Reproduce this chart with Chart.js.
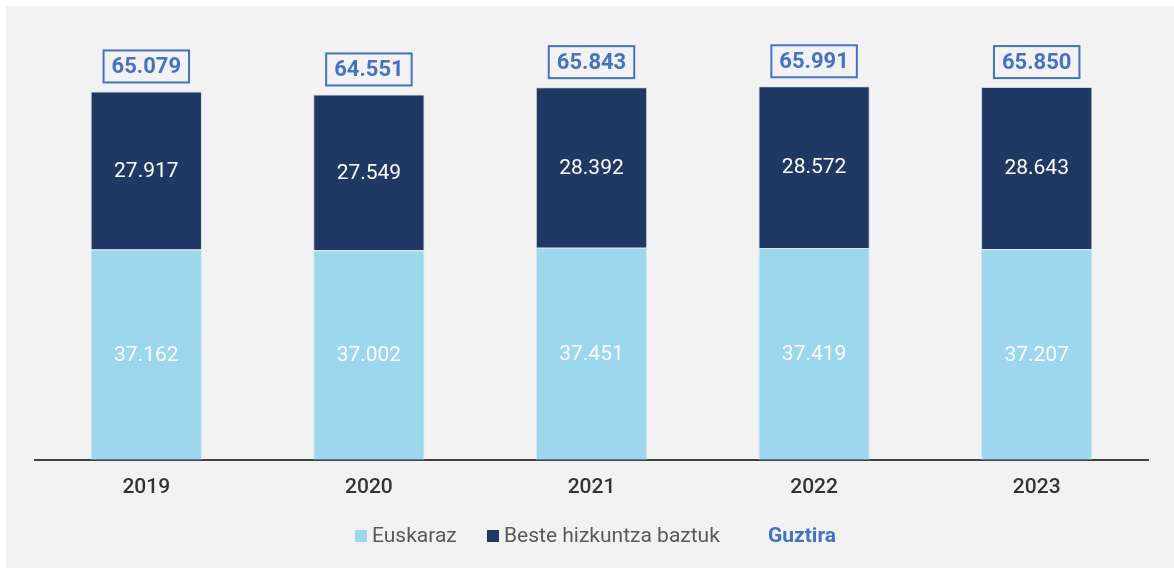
<!DOCTYPE html>
<html>
<head>
<meta charset="utf-8">
<script src="https://cdn.jsdelivr.net/npm/chart.js@4"></script>
<style>
  html, body { margin: 0; padding: 0; background: #ffffff; }
  body { width: 1174px; height: 568px; position: relative; overflow: hidden; font-family: Roboto, "Noto Sans", sans-serif; }
  #panel { position: absolute; left: 6px; top: 6px; width: 1168px; height: 562px; background: #f2f2f2; }
  #wrap { position: absolute; left: 0; top: 0; width: 1168px; height: 519px; }
  #legend { position: absolute; left: 0; top: 515px; width: 1168px; height: 28px; font-size: 21px; color: #595959; }
  .item { position: absolute; top: 0; line-height: 28px; white-space: nowrap; }
  .sw { display: inline-block; width: 12px; height: 12px; margin-right: 5px; vertical-align: 0px; }
</style>
</head>
<body>
<div id="panel">
  <div id="wrap"><canvas id="myChart"></canvas></div>
  <div id="legend">
    <span class="item" style="left:349px"><span class="sw" style="background:#9dd7ee"></span>Euskaraz</span>
    <span class="item" style="left:481px"><span class="sw" style="background:#1f3864"></span>Beste hizkuntza baztuk</span>
    <span class="item" style="left:762px;font-weight:bold;color:#4472c4">Guztira</span>
  </div>
</div>
<script>
const years = ['2019', '2020', '2021', '2022', '2023'];
const euskaraz = [37162, 37002, 37451, 37419, 37207];
const beste = [27917, 27549, 28392, 28572, 28643];
const guztira = [65079, 64551, 65843, 65991, 65850];

const fmt = v => v.toLocaleString('de-DE');

// draws the value inside each segment and the boxed total above each bar
const labelsPlugin = {
  id: 'labels',
  afterDatasetsDraw(chart) {
    const ctx = chart.ctx;
    ctx.save();
    ctx.textAlign = 'center';
    ctx.textBaseline = 'middle';
    ctx.font = '21px Roboto';
    chart.data.datasets.forEach((ds, i) => {
      chart.getDatasetMeta(i).data.forEach((bar, j) => {
        const mid = (bar.y + bar.base) / 2;
        ctx.fillStyle = '#ffffff';
        ctx.fillText(fmt(ds.data[j]), bar.x, mid + 1);
      });
    });
    const top = chart.getDatasetMeta(1).data;
    const yScale = chart.scales.y;
    ctx.font = 'bold 22px Roboto';
    guztira.forEach((v, j) => {
      const x = top[j].x;
      const y = yScale.getPixelForValue(v) - 25;
      const w = ctx.measureText(fmt(v)).width + 16;
      ctx.strokeStyle = '#4472c4';
      ctx.lineWidth = 2;
      ctx.strokeRect(x - w / 2, y - 16, w, 32);
      ctx.fillStyle = '#4472c4';
      ctx.fillText(fmt(v), x, y + 1);
    });
    ctx.restore();
  }
};

const ctx = document.getElementById('myChart');

new Chart(ctx, {
  type: 'bar',
  data: {
    labels: years,
    datasets: [{
      label: 'Euskaraz',
      data: euskaraz,
      backgroundColor: '#9dd7ee',
      borderColor: '#d9e6ee',
      borderWidth: 1
    }, {
      label: 'Beste hizkuntza baztuk',
      data: beste,
      backgroundColor: '#1f3864',
      borderColor: '#c9d3df',
      borderWidth: 1
    }]
  },
  options: {
    responsive: true,
    maintainAspectRatio: false,
    animation: false,
    layout: { padding: { left: 29, right: 26, top: 1, bottom: 10 } },
    datasets: { bar: { categoryPercentage: 1, barPercentage: 0.5 } },
    plugins: { legend: { display: false }, tooltip: { enabled: false } },
    scales: {
      x: {
        stacked: true,
        grid: { display: false, drawTicks: false },
        border: { display: true, color: '#404040', width: 2 },
        ticks: { color: '#333333', padding: 15, font: { family: 'Roboto', size: 21, weight: '500' } }
      },
      y: {
        stacked: true,
        display: false,
        min: 0,
        max: 80000
      }
    }
  },
  plugins: [labelsPlugin]
});
</script>
</body>
</html>
